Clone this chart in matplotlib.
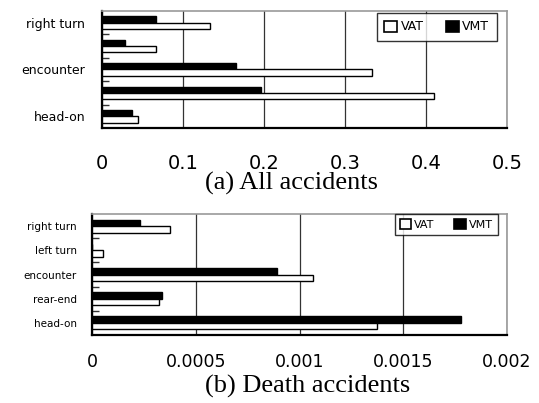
import matplotlib
matplotlib.use('Agg')
import matplotlib.pyplot as plt
from matplotlib.patches import Patch
import numpy as np

# accident types, bottom to top
categories = ['head-on', 'rear-end', 'encounter', 'left turn', 'right turn']

# (a) all accidents
all_vat = [0.044, 0.410, 0.333, 0.067, 0.133]
all_vmt = [0.037, 0.196, 0.166, 0.029, 0.067]
all_ticks = [0, 0.1, 0.2, 0.3, 0.4, 0.5]
all_ticklabels = ['0', '0.1', '0.2', '0.3', '0.4', '0.5']

# (b) death accidents
death_vat = [0.001374, 0.000325, 0.001063, 0.000053, 0.000377]
death_vmt = [0.00178, 0.000336, 0.000891, 0.0, 0.000232]
death_ticks = [0, 0.0005, 0.001, 0.0015, 0.002]
death_ticklabels = ['0', '0.0005', '0.001', '0.0015', '0.002']

sans = ['DejaVu Sans']
serif = ['Liberation Serif', 'DejaVu Serif']
bar_h = 0.27


def draw_panel(ax, vat, vmt, ticks, ticklabels, ylabels, ylab_size, xlab_size,
               xpad, ypad, leg_anchor, leg_size, leg_pad, leg_colsp):
    y = np.arange(len(categories))
    ax.barh(y + bar_h / 2, vmt, height=bar_h, color='black', edgecolor='black',
            linewidth=1.0, zorder=3)
    ax.barh(y - bar_h / 2, vat, height=bar_h, color='white', edgecolor='black',
            linewidth=1.0, zorder=3)
    ax.set_xlim(ticks[0], ticks[-1])
    ax.set_ylim(-0.5, len(categories) - 0.5)
    ax.set_xticks(ticks)
    ax.set_xticklabels(ticklabels, family=sans, fontsize=xlab_size)
    ax.tick_params(axis='x', length=0, pad=xpad)
    ax.set_yticks(y)
    ax.set_yticklabels(ylabels, family=sans, fontsize=ylab_size)
    ax.tick_params(axis='y', which='major', length=0, pad=ypad)
    ax.set_yticks(np.arange(len(categories) - 1) + 0.5, minor=True)
    ax.tick_params(axis='y', which='minor', direction='in', length=5,
                   width=1, color='#333333')
    ax.grid(axis='x', color='#333333', linewidth=0.9, zorder=0)
    for s in ['left', 'bottom']:
        ax.spines[s].set_color('black')
        ax.spines[s].set_linewidth(1.6)
    for s in ['top', 'right']:
        ax.spines[s].set_color('#999999')
        ax.spines[s].set_linewidth(1.2)
    handles = [Patch(facecolor='white', edgecolor='black', linewidth=1.2, label='VAT'),
               Patch(facecolor='black', edgecolor='black', linewidth=1.2, label='VMT')]
    leg = ax.legend(handles=handles, loc='upper right', bbox_to_anchor=leg_anchor,
                    borderaxespad=0, ncol=2, frameon=True, fancybox=False,
                    handlelength=1.0, handleheight=1.0, handletextpad=0.3,
                    columnspacing=leg_colsp, borderpad=leg_pad,
                    prop={'family': sans, 'size': leg_size})
    leg.get_frame().set_edgecolor('black')
    leg.get_frame().set_linewidth(1.0)


fig = plt.figure(figsize=(5.39, 4.03), dpi=100)

ax1 = fig.add_axes([0.1892, 0.6824, 0.7514, 0.2903])
top_labels = [c if i % 2 == 0 else '' for i, c in enumerate(categories)]
draw_panel(ax1, all_vat, all_vmt, all_ticks, all_ticklabels, top_labels,
           9, 14, 19, 12, (0.975, 0.983), 9, 0.6, 1.8)

ax2 = fig.add_axes([0.1707, 0.1687, 0.77, 0.3002])
draw_panel(ax2, death_vat, death_vmt, death_ticks, death_ticklabels, categories,
           7.5, 12.5, 13, 11, (0.978, 1.0), 8, 0.45, 1.8)

fig.text(0.54, 0.545, '(a) All accidents', family=serif, fontsize=19,
         ha='center', va='center')
fig.text(0.57, 0.04, '(b) Death accidents', family=serif, fontsize=19,
         ha='center', va='center')

fig.savefig('out.png', dpi=100)
